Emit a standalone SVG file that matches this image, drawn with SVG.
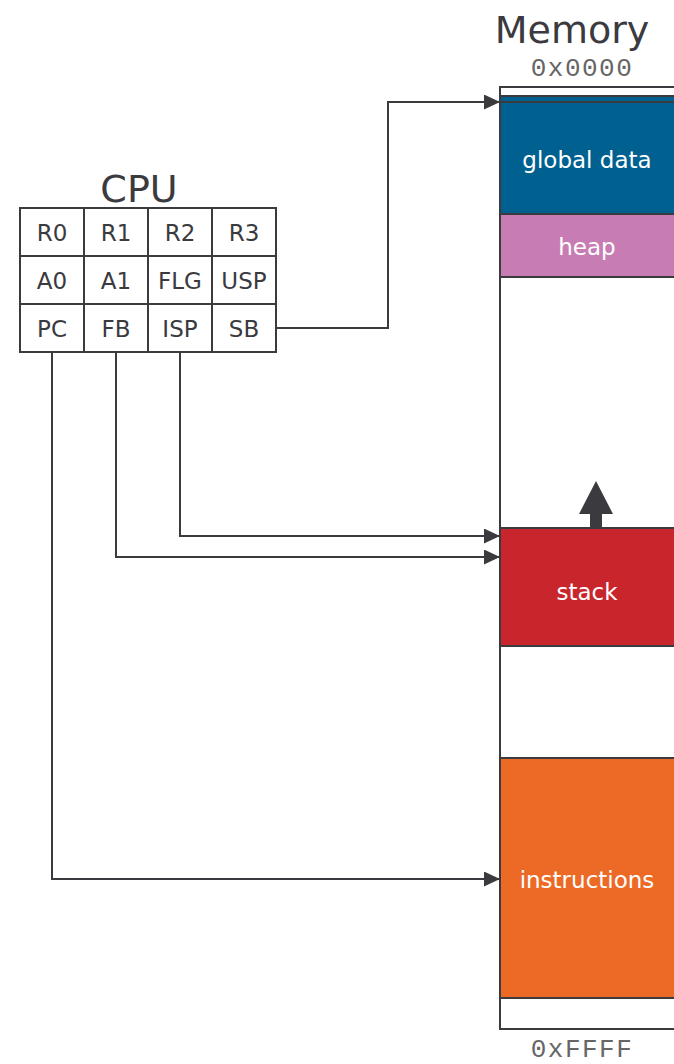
<svg xmlns="http://www.w3.org/2000/svg" width="674" height="1064" viewBox="0 0 674 1064">
  <defs>
    <marker id="arrow" viewBox="0 0 10 10" refX="10" refY="5" markerWidth="16" markerHeight="15" markerUnits="userSpaceOnUse" orient="auto" preserveAspectRatio="none">
      <path d="M0,0 L10,5 L0,10 Z" fill="#3a3a3f"/>
    </marker>
    <style>
      .title { font-family: "DejaVu Sans", Verdana, sans-serif; font-size: 38px; fill: #3a3a3f; text-anchor: middle; }
      .addr { font-family: "Liberation Mono", "Courier New", monospace; font-size: 26px; fill: #666; text-anchor: middle; letter-spacing: 1.5px; }
      .cell { fill: #fff; stroke: #3a3a3f; stroke-width: 2; }
      .reg { font-family: "DejaVu Sans", Verdana, sans-serif; font-size: 23px; fill: #3a3a3f; text-anchor: middle; }
      .block { stroke: #3a3a3f; stroke-width: 2; }
      .blabel { font-family: "DejaVu Sans", Verdana, sans-serif; font-size: 23px; fill: #fff; text-anchor: middle; }
      .wire { fill: none; stroke: #3a3a3f; stroke-width: 2; }
    </style>
  </defs>

  <rect width="674" height="1064" fill="#fff"/>

  <!-- Memory column -->
  <g id="memory">
    <text class="title" x="572" y="43">Memory</text>
    <text class="addr" x="582" y="76">0x0000</text>
    <rect x="500" y="87" width="190" height="942" fill="#fff" stroke="#3a3a3f" stroke-width="2"/>
    <text class="addr" x="582" y="1057">0xFFFF</text>
  </g>

  <g id="global-data">
    <rect class="block" x="500" y="96" width="190" height="118" fill="#006191"/>
    <line x1="500" y1="102" x2="690" y2="102" stroke="#3a3a3f" stroke-width="2"/>
    <text class="blabel" x="587" y="168">global data</text>
  </g>

  <g id="heap">
    <rect class="block" x="500" y="214" width="190" height="63" fill="#c77db3"/>
    <text class="blabel" x="587" y="255">heap</text>
  </g>

  <g id="stack">
    <rect class="block" x="500" y="528" width="190" height="118" fill="#c9252c"/>
    <text class="blabel" x="587" y="600">stack</text>
    <!-- growth direction -->
    <path d="M596,481 L613,514 L602,514 L602,528 L590,528 L590,514 L579,514 Z" fill="#3a3a3f"/>
  </g>

  <g id="instructions">
    <rect class="block" x="500" y="758" width="190" height="240" fill="#ec6a25"/>
    <text class="blabel" x="587" y="888">instructions</text>
  </g>

  <!-- CPU register file -->
  <g id="cpu">
    <text class="title" x="139" y="202">CPU</text>
    <g id="row-0">
      <rect class="cell" x="20" y="208" width="64" height="48"/>
      <rect class="cell" x="84" y="208" width="64" height="48"/>
      <rect class="cell" x="148" y="208" width="64" height="48"/>
      <rect class="cell" x="212" y="208" width="64" height="48"/>
      <text class="reg" x="52" y="241">R0</text>
      <text class="reg" x="116" y="241">R1</text>
      <text class="reg" x="180" y="241">R2</text>
      <text class="reg" x="244" y="241">R3</text>
    </g>
    <g id="row-1">
      <rect class="cell" x="20" y="256" width="64" height="48"/>
      <rect class="cell" x="84" y="256" width="64" height="48"/>
      <rect class="cell" x="148" y="256" width="64" height="48"/>
      <rect class="cell" x="212" y="256" width="64" height="48"/>
      <text class="reg" x="52" y="289">A0</text>
      <text class="reg" x="116" y="289">A1</text>
      <text class="reg" x="180" y="289">FLG</text>
      <text class="reg" x="244" y="289">USP</text>
    </g>
    <g id="row-2">
      <rect class="cell" x="20" y="304" width="64" height="48"/>
      <rect class="cell" x="84" y="304" width="64" height="48"/>
      <rect class="cell" x="148" y="304" width="64" height="48"/>
      <rect class="cell" x="212" y="304" width="64" height="48"/>
      <text class="reg" x="52" y="337">PC</text>
      <text class="reg" x="116" y="337">FB</text>
      <text class="reg" x="180" y="337">ISP</text>
      <text class="reg" x="244" y="337">SB</text>
    </g>
  </g>

  <!-- register pointers into memory -->
  <g id="connectors">
    <polyline class="wire" points="276,328 388,328 388,102 500,102" marker-end="url(#arrow)"/>
    <polyline class="wire" points="180,352 180,536 500,536" marker-end="url(#arrow)"/>
    <polyline class="wire" points="116,352 116,557 500,557" marker-end="url(#arrow)"/>
    <polyline class="wire" points="52,352 52,879 500,879" marker-end="url(#arrow)"/>
  </g>
</svg>
